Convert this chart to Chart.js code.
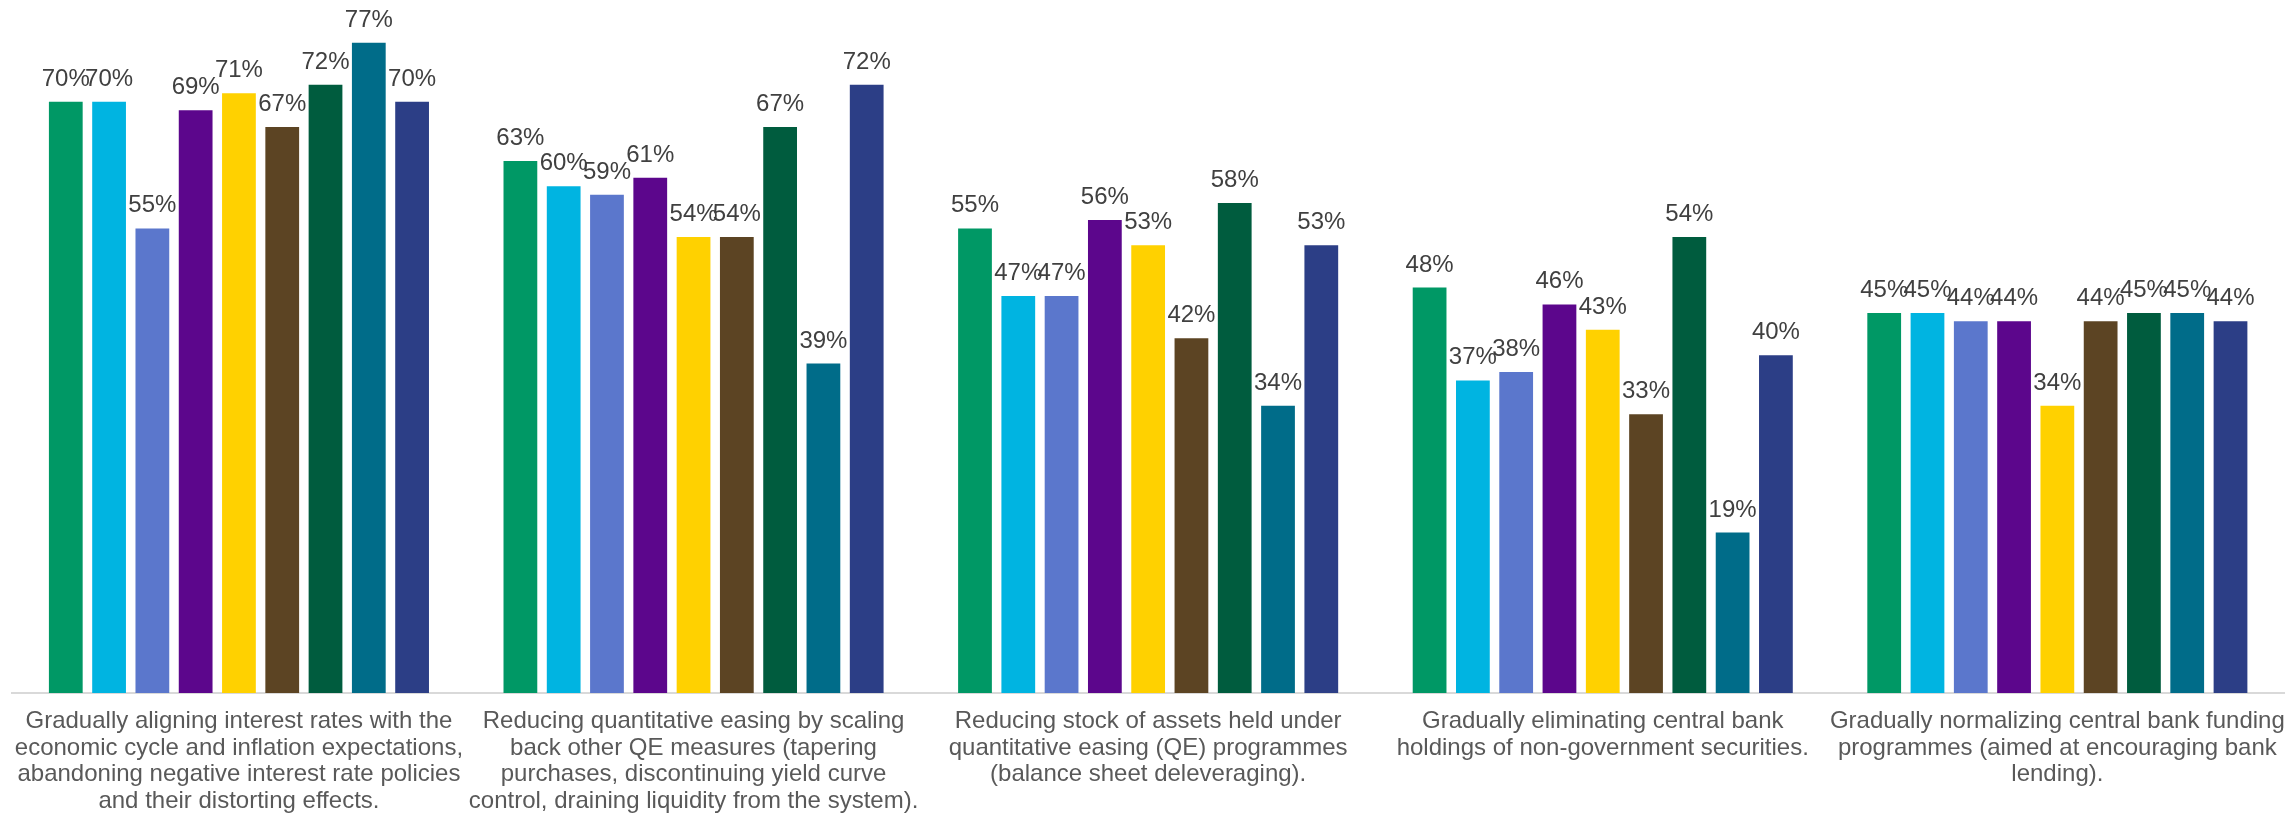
<!DOCTYPE html>
<html>
<head>
<meta charset="utf-8">
<script src="https://cdn.jsdelivr.net/npm/chart.js@4"></script>
<style>
    html, body { margin: 0; padding: 0; background: #ffffff; overflow: hidden; height: 822px; }
    #wrap { width: 2300px; height: 835px; position: relative; }
</style>
</head>
<body>
<div id="wrap"><canvas id="policyChart"></canvas></div>
<script>
// Categories (multi-line labels as drawn under the axis)
const categories = [
    ['Gradually aligning interest rates with the', 'economic cycle and inflation expectations,', 'abandoning negative interest rate policies', 'and their distorting effects.'],
    ['Reducing quantitative easing by scaling', 'back other QE measures (tapering', 'purchases, discontinuing yield curve', 'control, draining liquidity from the system).'],
    ['Reducing stock of assets held under', 'quantitative easing (QE) programmes', '(balance sheet deleveraging).'],
    ['Gradually eliminating central bank', 'holdings of non-government securities.'],
    ['Gradually normalizing central bank funding', 'programmes (aimed at encouraging bank', 'lending).']
];

// One series per bar colour (percent)
const series1 = [70, 63, 55, 48, 45];
const series2 = [70, 60, 47, 37, 45];
const series3 = [55, 59, 47, 38, 44];
const series4 = [69, 61, 56, 46, 44];
const series5 = [71, 54, 53, 43, 34];
const series6 = [67, 54, 42, 33, 44];
const series7 = [72, 67, 58, 54, 45];
const series8 = [77, 39, 34, 19, 45];
const series9 = [70, 72, 53, 40, 44];

const seriesNames = ['Series 1', 'Series 2', 'Series 3', 'Series 4', 'Series 5', 'Series 6', 'Series 7', 'Series 8', 'Series 9'];
const seriesColors = ['#009865', '#00B4E1', '#5B77CC', '#5C068C', '#FFD100', '#5C4423', '#005C3E', '#006C89', '#2C3E86'];
const allSeries = [series1, series2, series3, series4, series5, series6, series7, series8, series9];

// draw the % value above every bar
const valueLabels = {
    id: 'valueLabels',
    afterDatasetsDraw(chart) {
        const ctx = chart.ctx;
        ctx.save();
        ctx.font = '24px "Liberation Sans", Arial, sans-serif';
        ctx.fillStyle = '#404040';
        ctx.textAlign = 'center';
        ctx.textBaseline = 'alphabetic';
        chart.data.datasets.forEach((ds, i) => {
            const meta = chart.getDatasetMeta(i);
            meta.data.forEach((bar, j) => {
                ctx.fillText(ds.data[j] + '%', bar.x, bar.y - 16);
            });
        });
        ctx.restore();
    }
};

const ctx = document.getElementById('policyChart').getContext('2d');
new Chart(ctx, {
    type: 'bar',
    data: {
        labels: categories,
        datasets: allSeries.map((d, i) => ({
            label: seriesNames[i],
            data: d,
            backgroundColor: seriesColors[i],
            borderWidth: 0,
            categoryPercentage: 0.857,
            barPercentage: 0.78
        }))
    },
    options: {
        responsive: true,
        maintainAspectRatio: false,
        animation: false,
        layout: {
            padding: { top: 17.3, left: 9, right: 4.5, bottom: 5.2 }
        },
        plugins: {
            legend: { display: false },
            tooltip: { enabled: false }
        },
        scales: {
            y: {
                display: false,
                min: 0,
                max: 80
            },
            x: {
                grid: { display: false, drawTicks: false },
                border: { display: true, color: '#d9d9d9', width: 2 },
                ticks: {
                    color: '#595959',
                    font: { family: '"Liberation Sans", Arial, sans-serif', size: 24, lineHeight: 1.1125 },
                    padding: 15,
                    autoSkip: false,
                    maxRotation: 0,
                    minRotation: 0
                }
            }
        }
    },
    plugins: [valueLabels]
});
</script>
</body>
</html>
